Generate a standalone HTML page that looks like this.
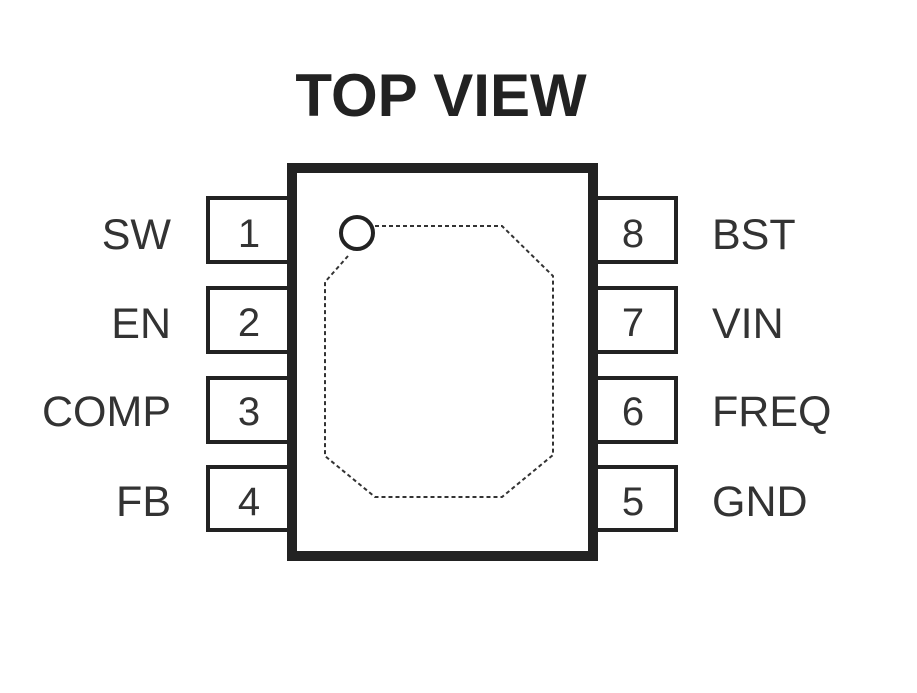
<!DOCTYPE html>
<html><head><style>body{margin:0;background:#fff}</style></head><body>
<svg width="917" height="688" xmlns="http://www.w3.org/2000/svg" font-family="Liberation Sans, sans-serif">
<rect width="917" height="688" fill="#fff"/>
<text x="441" y="116" text-anchor="middle" font-size="60" font-weight="bold" fill="#222">TOP VIEW</text>
<g fill="#fff" stroke="#222" stroke-width="4">
<rect x="208" y="198" width="84" height="64"/>
<rect x="208" y="288" width="84" height="64"/>
<rect x="208" y="378" width="84" height="64"/>
<rect x="208" y="467" width="84" height="63"/>
<rect x="592" y="198" width="84" height="64"/>
<rect x="592" y="288" width="84" height="64"/>
<rect x="592" y="378" width="84" height="64"/>
<rect x="592" y="467" width="84" height="63"/>
</g>
<rect x="292" y="168" width="301" height="388" fill="#fff" stroke="#222" stroke-width="10"/>
<circle cx="357" cy="233" r="16" fill="none" stroke="#222" stroke-width="4"/>
<polyline points="375,226 502,226 553,276 553,455 502,497 375,497 325,456 325,282 348,256" fill="none" stroke="#333" stroke-width="2" stroke-dasharray="4,3"/>
<g font-size="40" fill="#333" text-anchor="middle">
<text x="249" y="247">1</text><text x="249" y="336">2</text><text x="249" y="425">3</text><text x="249" y="515">4</text>
<text x="633" y="247">8</text><text x="633" y="336">7</text><text x="633" y="425">6</text><text x="633" y="515">5</text>
</g>
<g font-size="43" fill="#333" text-anchor="end">
<text x="171" y="249">SW</text><text x="171" y="338">EN</text><text x="171" y="426">COMP</text><text x="171" y="516">FB</text>
</g>
<g font-size="43" fill="#333">
<text x="712" y="249">BST</text><text x="712" y="338">VIN</text><text x="712" y="426">FREQ</text><text x="712" y="516">GND</text>
</g>
</svg>
</body></html>
